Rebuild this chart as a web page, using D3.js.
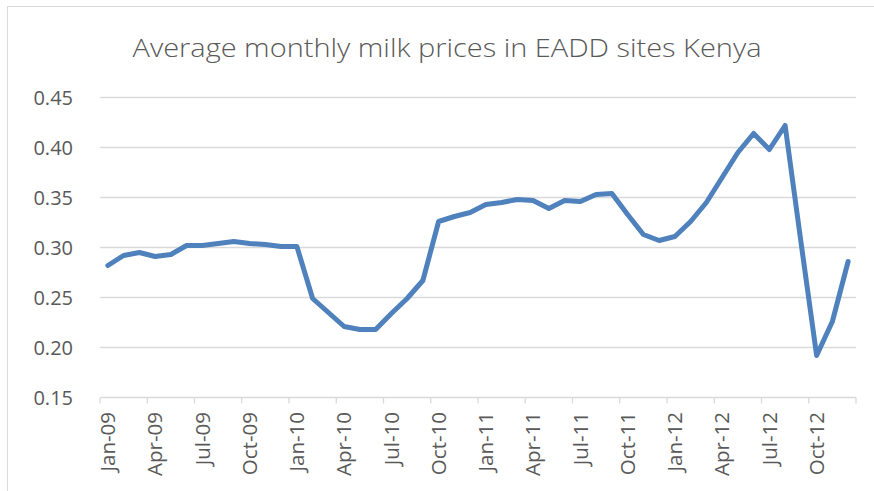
<!DOCTYPE html>
<html>
<head>
<meta charset="utf-8">
<script src="https://cdn.jsdelivr.net/npm/d3@7"></script>
<style>
  body { margin: 0; background: #fff; }
  svg { display: block; }
  text { font-family: "Open Sans", "Liberation Sans", sans-serif; fill: #595959; }
</style>
</head>
<body>
<svg></svg>
<script>
// months Jan-09 .. Dec-12
const years = ["09", "10", "11", "12"]
const monthNames = ["Jan", "Feb", "Mar", "Apr", "May", "Jun", "Jul", "Aug", "Sep", "Oct", "Nov", "Dec"]
const months = []
years.forEach(y => monthNames.forEach(m => months.push(m + "-" + y)))

// average price per month
const prices = [
  0.282, 0.292, 0.295, 0.291, 0.293, 0.302, 0.302, 0.304, 0.306, 0.304, 0.303, 0.301,
  0.301, 0.249, 0.235, 0.221, 0.218, 0.218, 0.234, 0.249, 0.267, 0.326, 0.331, 0.335,
  0.343, 0.345, 0.348, 0.347, 0.339, 0.347, 0.346, 0.353, 0.354, 0.333, 0.313, 0.307,
  0.311, 0.326, 0.345, 0.370, 0.395, 0.414, 0.398, 0.422, 0.306, 0.192, 0.226, 0.286
]

const yTicks = [0.15, 0.20, 0.25, 0.30, 0.35, 0.40, 0.45]

const svg = d3.select("svg")
    .attr("width", 874)
    .attr("height", 491)

// chart frame (only top and left edges show in the picture)
svg.append("rect")
    .attr("x", 7.5)
    .attr("y", 6.5)
    .attr("width", 900)
    .attr("height", 600)
    .attr("fill", "none")
    .attr("stroke", "#d9d9d9")
    .attr("stroke-width", 1)

svg.append("text")
    .attr("x", 447)
    .attr("y", 57)
    .attr("text-anchor", "middle")
    .attr("textLength", 629)
    .attr("lengthAdjust", "spacingAndGlyphs")
    .style("font-size", "26px")
    .style("font-weight", 300)
    .text("Average monthly milk prices in EADD sites Kenya")

const x = d3.scaleBand()
    .domain(months)
    .range([100, 856])

const y = d3.scaleLinear()
    .domain([0.15, 0.45])
    .range([397.5, 97.5])

// gridlines
svg.append("g")
    .selectAll("line")
    .data(yTicks.slice(1))
    .enter()
    .append("line")
    .attr("x1", 100)
    .attr("x2", 856)
    .attr("y1", d => y(d))
    .attr("y2", d => y(d))
    .attr("stroke", "#d9d9d9")
    .attr("stroke-width", 1.3)

// y labels
svg.append("g")
    .selectAll("text")
    .data(yTicks)
    .enter()
    .append("text")
    .attr("x", 73)
    .attr("y", d => y(d))
    .attr("dy", "0.35em")
    .attr("text-anchor", "end")
    .style("font-size", "20px")
    .text(d => d.toFixed(2))

// x axis line and ticks every 3 months, at band edges
const xAxis = svg.append("g")
xAxis.append("line")
    .attr("x1", 100)
    .attr("x2", 856)
    .attr("y1", y(0.15))
    .attr("y2", y(0.15))
    .attr("stroke", "#d9d9d9")
    .attr("stroke-width", 1.3)

const tickMonths = months.filter((m, i) => i % 3 === 0)
xAxis.selectAll("line.tick")
    .data(tickMonths.concat(["end"]))
    .enter()
    .append("line")
    .attr("class", "tick")
    .attr("x1", d => d === "end" ? x.range()[1] : x(d))
    .attr("x2", d => d === "end" ? x.range()[1] : x(d))
    .attr("y1", y(0.15))
    .attr("y2", y(0.15) + 6)
    .attr("stroke", "#d9d9d9")
    .attr("stroke-width", 1.3)

xAxis.selectAll("text")
    .data(tickMonths)
    .enter()
    .append("text")
    .attr("transform", d => `translate(${x(d) + x.bandwidth() / 2}, 412) rotate(-90)`)
    .attr("dy", "0.35em")
    .attr("text-anchor", "end")
    .style("font-size", "20.5px")
    .text(d => d)

// the price line
const line = d3.line()
    .x((d, i) => x(months[i]) + x.bandwidth() / 2)
    .y(d => y(d))

svg.append("path")
    .datum(prices)
    .attr("d", line)
    .attr("fill", "none")
    .attr("stroke", "#4f81bd")
    .attr("stroke-width", 5)
    .attr("stroke-linejoin", "round")
    .attr("stroke-linecap", "round")
</script>
</body>
</html>
